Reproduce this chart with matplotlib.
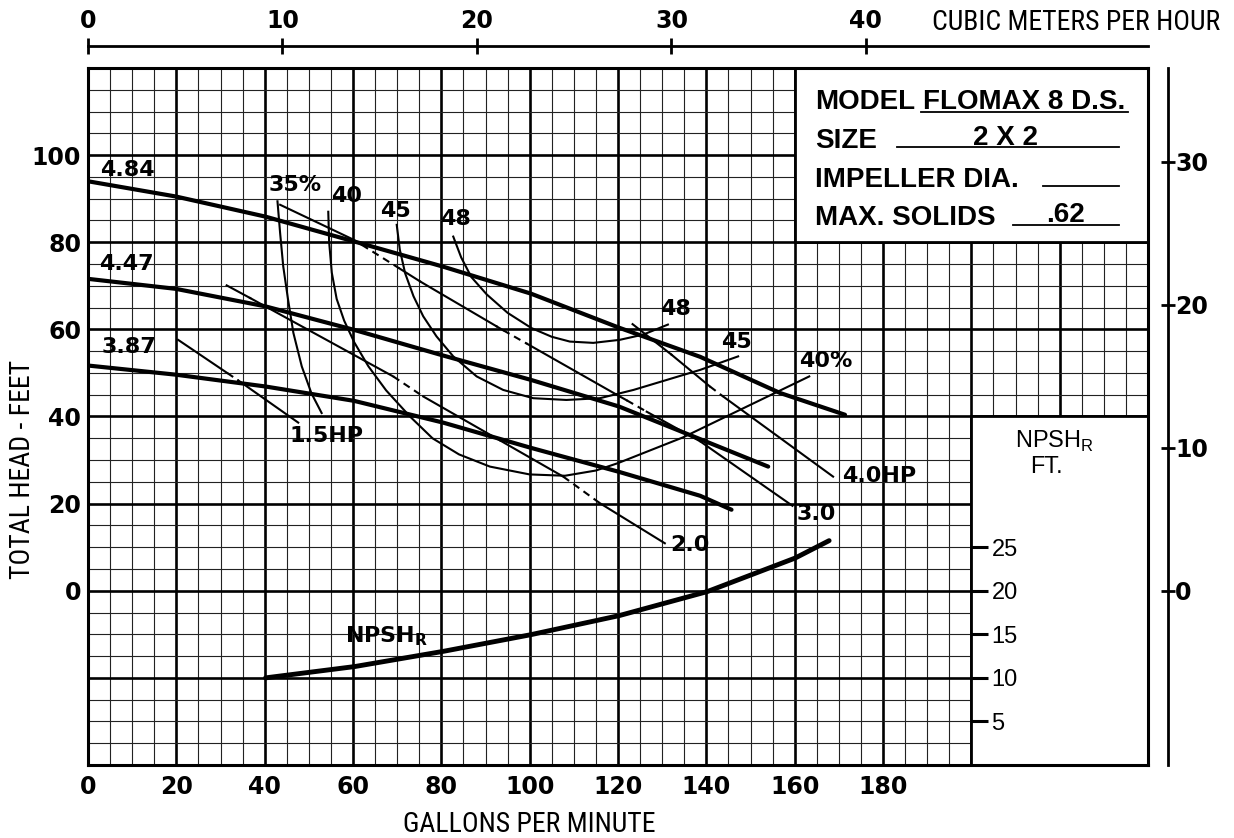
import numpy as np
import matplotlib
matplotlib.use('Agg')
import matplotlib.pyplot as plt
from matplotlib.patches import Rectangle
from matplotlib import font_manager
from matplotlib.font_manager import FontProperties

# unit conversions used by the extra scales
GPM_PER_M3H = 4.4029
M_PER_FT = 0.3048

# tick values
gpm_ticks = [0, 20, 40, 60, 80, 100, 120, 140, 160, 180]
head_ticks = [0, 20, 40, 60, 80, 100]
m3h_ticks = [0, 10, 20, 30, 40]
metre_ticks = [0, 10, 20, 30]
npsh_ticks = [5, 10, 15, 20, 25]

# head curves for the three impeller sizes (gpm, ft)
h484_q = [0, 19.9, 40.1, 60.2, 80.4, 100.3, 120.2, 138.6, 156.7, 171.4]
h484_h = [94.0, 90.5, 85.9, 80.2, 74.4, 68.2, 60.4, 53.7, 45.4, 40.4]
h447_q = [0, 19.9, 40.1, 60.2, 80.4, 100.3, 120.2, 138.6, 154.0]
h447_h = [71.6, 69.3, 65.3, 59.9, 54.0, 48.4, 42.3, 34.8, 28.5]
h387_q = [0, 19.9, 40.1, 60.2, 80.4, 100.3, 120.2, 138.6, 145.7]
h387_h = [51.7, 49.6, 46.9, 43.6, 38.6, 32.8, 27.3, 21.8, 18.6]

# efficiency curves
e35_q = [42.9, 43.5, 44.2, 45.3, 46.5, 48.4, 50.6, 52.9]
e35_h = [89.4, 82.1, 74.5, 66.8, 59.2, 51.5, 45.3, 40.8]
e40_q = [54.4, 54.6, 55.2, 56.3, 58.0, 60.3, 63.5, 67.5, 72.9, 78.0, 84.0,
         91.0, 100.0, 108.0, 115.0, 120.0, 134.7, 163.3]
e40_h = [87.0, 80.0, 73.0, 67.0, 62.0, 57.0, 51.5, 46.0, 40.0, 35.0, 31.3,
         28.5, 26.7, 26.4, 27.6, 29.3, 35.2, 49.2]
e45_q = [69.9, 70.6, 71.8, 73.7, 75.9, 78.9, 82.7, 88.0, 94.0, 100.8, 108.3,
         115.9, 123.5, 138.6, 147.2]
e45_h = [84.0, 78.3, 72.9, 67.6, 63.0, 58.4, 53.8, 49.2, 46.1, 44.2, 43.8,
         44.2, 46.1, 50.7, 53.8]
e48_q = [82.7, 84.5, 86.8, 90.3, 95.0, 100.4, 105.0, 109.1, 114.4, 120.4,
         125.7, 131.3]
e48_h = [81.3, 76.5, 72.0, 68.0, 63.8, 60.3, 58.3, 57.2, 56.9, 57.6, 58.8,
         61.1]

# power lines
hp15_q = [20.4, 31.5, 34.0, 47.6]
hp15_h = [57.6, 50.0, 48.3, 38.6]
hp20_q = [31.4, 36.7, 69.1, 75.9, 93.3, 107.6, 115.9, 130.6]
hp20_h = [70.1, 67.2, 49.2, 44.6, 34.5, 26.2, 20.1, 10.9]
hp30_q = [43.5, 60.1, 62.0, 70.5, 75.2, 92.5, 94.0, 99.4, 120.4, 122.0,
          126.5, 138.6, 159.5]
hp30_h = [88.6, 80.6, 79.4, 74.0, 71.0, 60.7, 59.8, 56.7, 44.6, 43.7,
          41.1, 34.3, 19.5]
hp40_q = [123.3, 132.1, 140.8, 143.8, 168.7]
hp40_h = [61.2, 54.2, 46.9, 44.6, 26.2]

# NPSH required, read on its own scale (ft)
npsh_q = [40.2, 60.4, 80.5, 100.2, 120.3, 140.2, 160.1, 167.8]
npsh_ft = [10.0, 11.3, 13.05, 14.95, 17.15, 19.9, 23.75, 25.75]


def head_to_npsh(h):
    return 20 + h / 2.0


def npsh_to_head(n):
    return 2.0 * (n - 20)


# look for a condensed face for the axis titles
def condensed_path():
    for fam in ['Liberation Sans Narrow', 'Noto Sans Condensed',
                'DejaVu Sans Condensed', 'Roboto Condensed',
                'Open Sans Condensed']:
        try:
            return font_manager.findfont(FontProperties(family=fam),
                                         fallback_to_default=False)
        except ValueError:
            pass
    for fam in ['Noto Sans', 'DejaVu Sans', 'Open Sans', 'Roboto']:
        try:
            p = font_manager.findfont(FontProperties(family=fam, stretch='condensed'),
                                      fallback_to_default=False)
        except ValueError:
            continue
        if 'ondensed' in p or 'arrow' in p:
            return p
    return None


cpath = condensed_path()
if cpath:
    title_font = FontProperties(fname=cpath, size=20)
else:
    title_font = FontProperties(family=['Liberation Sans', 'DejaVu Sans'], size=16)

bold = dict(family='DejaVu Sans', fontweight='bold', fontsize=16)
tickfont = dict(family='DejaVu Sans', fontweight='bold', fontsize=17)
helv = dict(family=['Liberation Sans', 'DejaVu Sans'])

fig = plt.figure(figsize=(12.34, 8.38), dpi=100)
ax = fig.add_axes([88 / 1234, 73 / 838, 1060 / 1234, 697 / 838])
ax.set_xlim(0, 240)
ax.set_ylim(-40, 120)

# graph paper
for x in range(5, 240, 5):
    if x % 20 == 0:
        ax.axvline(x, color='black', lw=1.9, zorder=1)
    else:
        ax.axvline(x, color='#222222', lw=0.8, zorder=1)
for y in range(-35, 120, 5):
    if y % 20 == 0:
        ax.axhline(y, color='black', lw=1.9, zorder=1)
    else:
        ax.axhline(y, color='#222222', lw=0.8, zorder=1)

# blank areas: title block and NPSH corner
ax.add_patch(Rectangle((160, 80), 80, 40, facecolor='white',
                       edgecolor='black', lw=2.0, zorder=2))
ax.add_patch(Rectangle((200, -40), 40, 80, facecolor='white',
                       edgecolor='black', lw=2.0, zorder=2))

for s in ax.spines.values():
    s.set_linewidth(2.2)
    s.set_zorder(5)

ax.set_xticks(gpm_ticks, [str(v) for v in gpm_ticks], **tickfont)
ax.set_yticks(head_ticks, [str(v) for v in head_ticks], **tickfont)
ax.tick_params(axis='x', length=0, pad=7)
ax.tick_params(axis='y', length=0, pad=5)

# curves
for q, h in [(h484_q, h484_h), (h447_q, h447_h), (h387_q, h387_h)]:
    ax.plot(q, h, color='black', lw=3.0, solid_capstyle='round', zorder=3)
for q, h in [(e35_q, e35_h), (e40_q, e40_h), (e45_q, e45_h), (e48_q, e48_h)]:
    ax.plot(q, h, color='black', lw=1.5, zorder=3)


def power_line(q, h, dashed):
    for i in range(len(q) - 1):
        ls = (0, (3.5, 2.5)) if i in dashed else '-'
        ax.plot(q[i:i + 2], h[i:i + 2], color='black', lw=1.5, ls=ls, zorder=3)


power_line(hp15_q, hp15_h, [1])
power_line(hp20_q, hp20_h, [2, 5])
power_line(hp30_q, hp30_h, [2, 6, 9])
power_line(hp40_q, hp40_h, [2])

ax.plot(npsh_q, [npsh_to_head(n) for n in npsh_ft], color='black', lw=3.5,
        solid_capstyle='round', zorder=3)

# curve labels
labels = [('4.84', 8.9, 96.6), ('4.47', 8.6, 75.1), ('3.87', 9.2, 55.9),
          ('35%', 46.9, 93.2), ('40', 58.6, 90.7), ('45', 69.5, 87.2),
          ('48', 83.3, 85.4), ('48', 133.1, 64.7), ('45', 146.9, 57.2),
          ('40%', 167.1, 52.8), ('1.5HP', 54.1, 35.6), ('2.0', 136.2, 10.5),
          ('3.0', 164.8, 17.7), ('4.0HP', 179.1, 26.3)]
for txt, x, y in labels:
    ax.text(x, y, txt, ha='center', va='center', zorder=4, **bold)
ax.text(58.1, -11.9, r'NPSH$_{\mathbf{R}}$', ha='left', va='baseline',
        zorder=4, **bold)

# title block
box = dict(fontsize=20, fontweight='bold', ha='left', va='baseline', **helv)
ax.text(164.6, 110.6, 'MODEL', **box)
ax.text(189.0, 110.6, 'FLOMAX 8 D.S.', **box)
ax.plot([188.5, 235.5], [109.9, 109.9], color='black', lw=1.3, zorder=3)
ax.text(164.6, 101.7, 'SIZE', **box)
ax.plot([183.2, 233.4], [101.9, 101.9], color='black', lw=1.3, zorder=3)
ax.text(207.8, 102.4, '2 X 2', **dict(box, ha='center'))
ax.text(164.6, 92.7, 'IMPELLER DIA.', **box)
ax.plot([216.2, 233.4], [93.0, 93.0], color='black', lw=1.3, zorder=3)
ax.text(164.6, 84.0, 'MAX. SOLIDS', **box)
ax.plot([209.4, 233.4], [84.0, 84.0], color='black', lw=1.3, zorder=3)
ax.text(221.4, 84.7, '.62', **dict(box, ha='center'))

# NPSH corner caption
ax.text(209.9, 32.8, r'NPSH$_{\mathregular{R}}$', fontsize=17, ha='left',
        va='baseline', zorder=4, **helv)
ax.text(213.3, 27.1, 'FT.', fontsize=17, ha='left', va='baseline', zorder=4,
        **helv)

# axis titles
ax.text(191.0, 128.8, 'CUBIC METERS PER HOUR', ha='left', va='baseline',
        clip_on=False, fontproperties=title_font)
ax.text(100, -55.3, 'GALLONS PER MINUTE', ha='center', va='baseline',
        clip_on=False, fontproperties=title_font)
ax.text(-14.9, 27.8, 'TOTAL HEAD - FEET', ha='center', va='center',
        rotation=90, clip_on=False, fontproperties=title_font)

# cubic metres per hour scale on top
top = ax.secondary_xaxis(1.031, functions=(lambda g: g / GPM_PER_M3H,
                                           lambda m: m * GPM_PER_M3H))
top.set_xticks(m3h_ticks, [str(v) for v in m3h_ticks], **tickfont)
top.tick_params(direction='inout', length=12, width=2, pad=4)
for s in top.spines.values():
    s.set_linewidth(2.0)

# metres scale on the right
right = ax.secondary_yaxis(1.019, functions=(lambda f: f * M_PER_FT,
                                             lambda m: m / M_PER_FT))
right.set_yticks(metre_ticks, [str(v) for v in metre_ticks], **tickfont)
right.tick_params(direction='inout', length=10, width=2, pad=0)
for s in right.spines.values():
    s.set_linewidth(2.0)

# NPSH scale inside the corner
npsh = ax.secondary_yaxis(200 / 240, functions=(head_to_npsh, npsh_to_head))
npsh.set_zorder(6)
npsh.set_yticks(npsh_ticks, [str(v) for v in npsh_ticks], fontsize=17, **helv)
npsh.tick_params(direction='out', length=12.5, width=2.2, pad=2)
for s in npsh.spines.values():
    s.set_visible(False)

fig.savefig('out.png', dpi=100)
